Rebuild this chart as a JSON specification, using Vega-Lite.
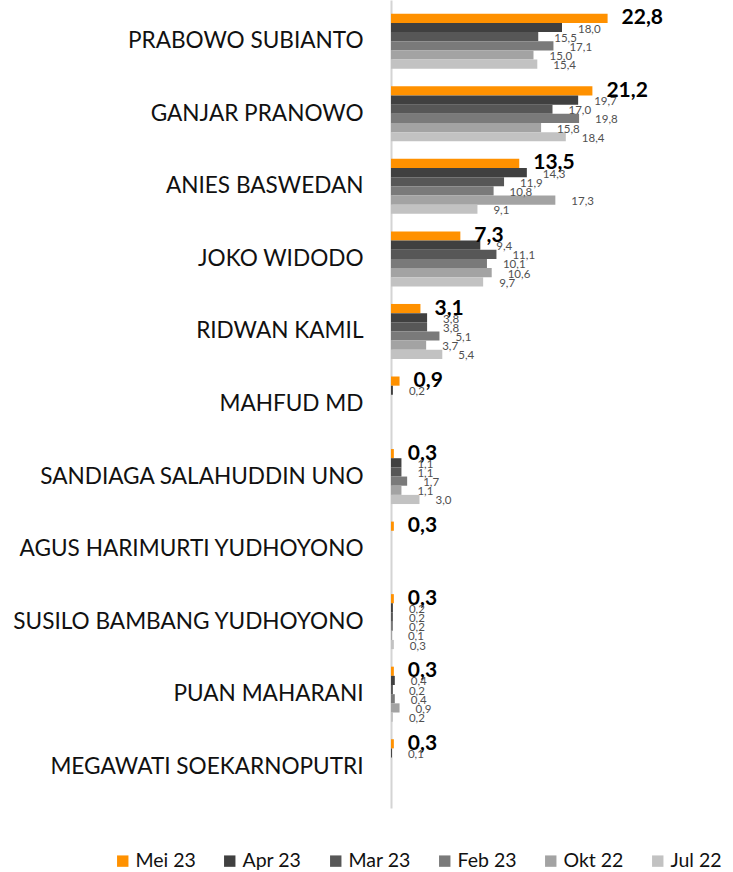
{
  "$schema": "https://vega.github.io/schema/vega-lite/v6.json",
  "width": 342,
  "height": 808,
  "autosize": {"type": "none"},
  "padding": {"left": 391, "right": 0, "top": 0, "bottom": 64},
  "background": "white",
  "config": {
    "view": {"stroke": null},
    "font": "Lato",
    "locale": {"number": {"decimal": ",", "thousands": ".", "grouping": [3], "currency": ["", ""]}}
  },
  "data": {"values": [
    {"c": "PRABOWO SUBIANTO", "s": "Mei 23", "v": 22.8},
    {"c": "PRABOWO SUBIANTO", "s": "Apr 23", "v": 18.0},
    {"c": "PRABOWO SUBIANTO", "s": "Mar 23", "v": 15.5},
    {"c": "PRABOWO SUBIANTO", "s": "Feb 23", "v": 17.1},
    {"c": "PRABOWO SUBIANTO", "s": "Okt 22", "v": 15.0},
    {"c": "PRABOWO SUBIANTO", "s": "Jul 22", "v": 15.4},
    {"c": "GANJAR PRANOWO", "s": "Mei 23", "v": 21.2},
    {"c": "GANJAR PRANOWO", "s": "Apr 23", "v": 19.7},
    {"c": "GANJAR PRANOWO", "s": "Mar 23", "v": 17.0},
    {"c": "GANJAR PRANOWO", "s": "Feb 23", "v": 19.8},
    {"c": "GANJAR PRANOWO", "s": "Okt 22", "v": 15.8},
    {"c": "GANJAR PRANOWO", "s": "Jul 22", "v": 18.4},
    {"c": "ANIES BASWEDAN", "s": "Mei 23", "v": 13.5},
    {"c": "ANIES BASWEDAN", "s": "Apr 23", "v": 14.3},
    {"c": "ANIES BASWEDAN", "s": "Mar 23", "v": 11.9},
    {"c": "ANIES BASWEDAN", "s": "Feb 23", "v": 10.8},
    {"c": "ANIES BASWEDAN", "s": "Okt 22", "v": 17.3},
    {"c": "ANIES BASWEDAN", "s": "Jul 22", "v": 9.1},
    {"c": "JOKO WIDODO", "s": "Mei 23", "v": 7.3},
    {"c": "JOKO WIDODO", "s": "Apr 23", "v": 9.4},
    {"c": "JOKO WIDODO", "s": "Mar 23", "v": 11.1},
    {"c": "JOKO WIDODO", "s": "Feb 23", "v": 10.1},
    {"c": "JOKO WIDODO", "s": "Okt 22", "v": 10.6},
    {"c": "JOKO WIDODO", "s": "Jul 22", "v": 9.7},
    {"c": "RIDWAN KAMIL", "s": "Mei 23", "v": 3.1},
    {"c": "RIDWAN KAMIL", "s": "Apr 23", "v": 3.8},
    {"c": "RIDWAN KAMIL", "s": "Mar 23", "v": 3.8},
    {"c": "RIDWAN KAMIL", "s": "Feb 23", "v": 5.1},
    {"c": "RIDWAN KAMIL", "s": "Okt 22", "v": 3.7},
    {"c": "RIDWAN KAMIL", "s": "Jul 22", "v": 5.4},
    {"c": "MAHFUD MD", "s": "Mei 23", "v": 0.9},
    {"c": "MAHFUD MD", "s": "Apr 23", "v": 0.2},
    {"c": "SANDIAGA SALAHUDDIN UNO", "s": "Mei 23", "v": 0.3},
    {"c": "SANDIAGA SALAHUDDIN UNO", "s": "Apr 23", "v": 1.1},
    {"c": "SANDIAGA SALAHUDDIN UNO", "s": "Mar 23", "v": 1.1},
    {"c": "SANDIAGA SALAHUDDIN UNO", "s": "Feb 23", "v": 1.7},
    {"c": "SANDIAGA SALAHUDDIN UNO", "s": "Okt 22", "v": 1.1},
    {"c": "SANDIAGA SALAHUDDIN UNO", "s": "Jul 22", "v": 3.0},
    {"c": "AGUS HARIMURTI YUDHOYONO", "s": "Mei 23", "v": 0.3},
    {"c": "SUSILO BAMBANG YUDHOYONO", "s": "Mei 23", "v": 0.3},
    {"c": "SUSILO BAMBANG YUDHOYONO", "s": "Apr 23", "v": 0.2},
    {"c": "SUSILO BAMBANG YUDHOYONO", "s": "Mar 23", "v": 0.2},
    {"c": "SUSILO BAMBANG YUDHOYONO", "s": "Feb 23", "v": 0.2},
    {"c": "SUSILO BAMBANG YUDHOYONO", "s": "Okt 22", "v": 0.1},
    {"c": "SUSILO BAMBANG YUDHOYONO", "s": "Jul 22", "v": 0.3},
    {"c": "PUAN MAHARANI", "s": "Mei 23", "v": 0.3},
    {"c": "PUAN MAHARANI", "s": "Apr 23", "v": 0.4},
    {"c": "PUAN MAHARANI", "s": "Mar 23", "v": 0.2},
    {"c": "PUAN MAHARANI", "s": "Feb 23", "v": 0.4},
    {"c": "PUAN MAHARANI", "s": "Okt 22", "v": 0.9},
    {"c": "PUAN MAHARANI", "s": "Jul 22", "v": 0.2},
    {"c": "MEGAWATI SOEKARNOPUTRI", "s": "Mei 23", "v": 0.3},
    {"c": "MEGAWATI SOEKARNOPUTRI", "s": "Apr 23", "v": 0.1}
  ]},
  "encoding": {
    "y": {
      "field": "c", "type": "nominal", "title": null,
      "sort": ["PRABOWO SUBIANTO", "GANJAR PRANOWO", "ANIES BASWEDAN", "JOKO WIDODO", "RIDWAN KAMIL", "MAHFUD MD", "SANDIAGA SALAHUDDIN UNO", "AGUS HARIMURTI YUDHOYONO", "SUSILO BAMBANG YUDHOYONO", "PUAN MAHARANI", "MEGAWATI SOEKARNOPUTRI"],
      "scale": {"paddingInner": 0.242, "paddingOuter": 0.19},
      "axis": {
        "ticks": false, "domainColor": "#d4d4d4", "domainWidth": 2,
        "labelFont": "Lato", "labelFontSize": 22.6, "labelColor": "#111111",
        "labelPadding": 28, "labelLimit": 400, "grid": false
      }
    },
    "yOffset": {
      "field": "s", "type": "nominal",
      "sort": ["Mei 23", "Apr 23", "Mar 23", "Feb 23", "Okt 22", "Jul 22"],
      "scale": {"paddingInner": 0, "paddingOuter": 0}
    },
    "x": {
      "field": "v", "type": "quantitative",
      "scale": {"domain": [0, 36], "nice": false},
      "axis": null
    }
  },
  "layer": [
    {
      "mark": {"type": "bar"},
      "encoding": {
        "color": {
          "field": "s", "type": "nominal",
          "sort": ["Mei 23", "Apr 23", "Mar 23", "Feb 23", "Okt 22", "Jul 22"],
          "scale": {
            "domain": ["Mei 23", "Apr 23", "Mar 23", "Feb 23", "Okt 22", "Jul 22"],
            "range": ["#ff9100", "#404040", "#575757", "#7a7a7a", "#a3a3a3", "#c2c2c2"]
          },
          "legend": {
            "title": null, "orient": "none", "direction": "horizontal",
            "legendX": -283, "legendY": 846, "padding": 5,
            "symbolType": "square", "symbolSize": 130, "symbolStrokeWidth": 0,
            "labelFont": "Lato", "labelFontSize": 19.5, "labelColor": "#111111",
            "labelOffset": 3, "columnPadding": 24, "labelLimit": 200
          }
        }
      }
    },
    {
      "transform": [{"filter": "datum.s === 'Mei 23'"}],
      "mark": {"type": "text", "align": "left", "baseline": "middle", "dx": 14, "dy": 0, "fontSize": 21, "fontWeight": "bold", "font": "Lato", "color": "#000000"},
      "encoding": {"text": {"field": "v", "type": "quantitative", "format": ".1f"}}
    },
    {
      "transform": [{"filter": "datum.s !== 'Mei 23'"}],
      "mark": {"type": "text", "align": "left", "baseline": "middle", "dx": 16, "dy": 2, "fontSize": 11.5, "font": "Lato", "color": "#505050"},
      "encoding": {"text": {"field": "v", "type": "quantitative", "format": ".1f"}}
    }
  ]
}
